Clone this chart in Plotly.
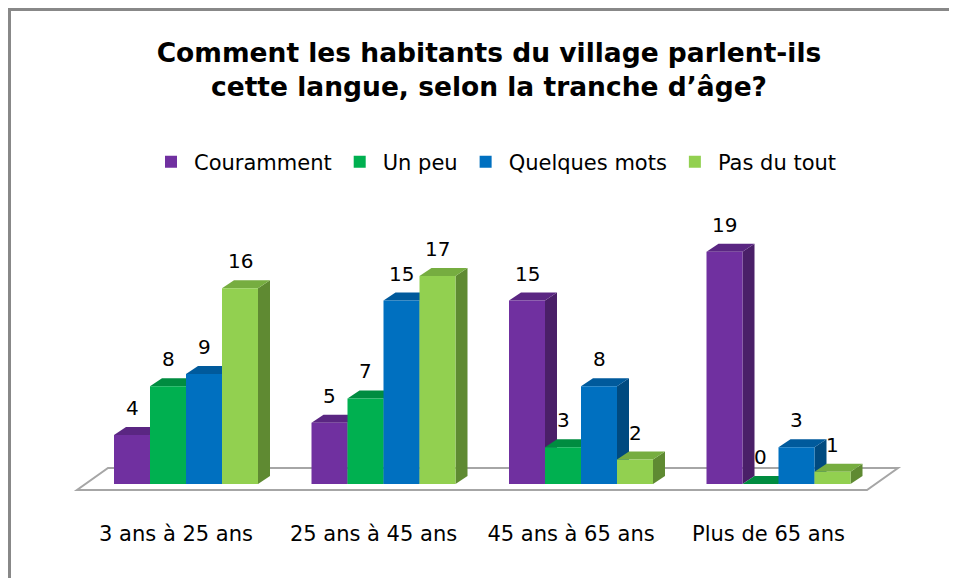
import plotly.graph_objects as go

# ---------------- data ----------------
categories = ["3 ans à 25 ans", "25 ans à 45 ans", "45 ans à 65 ans", "Plus de 65 ans"]
series_names = ["Couramment", "Un peu", "Quelques mots", "Pas du tout"]
couramment = [4, 5, 15, 19]
un_peu = [8, 7, 3, 0]
quelques_mots = [9, 15, 8, 3]
pas_du_tout = [16, 17, 2, 1]
series_values = [couramment, un_peu, quelques_mots, pas_du_tout]

# ---------------- style ----------------
front_colors = ["#7030A0", "#00B050", "#0070C0", "#92D050"]
top_colors = ["#5A2682", "#008C40", "#005A9C", "#76AD40"]
side_colors = ["#4A1F68", "#007434", "#004A80", "#5F8A32"]

FONT = "DejaVu Sans"
OFF = 8  # page body margin (px) – layout constants below are in page pixels
W, H = 957 - OFF, 578 - OFF
PLOT_L, PLOT_R, PLOT_T, PLOT_B = 67, 907, 227, 494  # page px
ML, MR, MT, MB = PLOT_L - OFF, W - (PLOT_R - OFF), PLOT_T - OFF, H - (PLOT_B - OFF)
PX_PER_CAT = 197.5
PX_PER_UNIT = 12.23
CAT0_PX = 186.0   # page px of first category centre
ZERO_PX = 484.0   # page px of value 0

x_min = (PLOT_L - CAT0_PX) / PX_PER_CAT
x_max = (PLOT_R - CAT0_PX) / PX_PER_CAT
y_min = (ZERO_PX - PLOT_B) / PX_PER_UNIT
y_max = (ZERO_PX - PLOT_T) / PX_PER_UNIT

n_series = len(series_values)
bar_w = 36.0 / PX_PER_CAT
group_w = bar_w * n_series
dx = 12.0 / PX_PER_CAT      # depth offset (x)
dv = 8.0 / PX_PER_UNIT      # depth offset (value)

fig = go.Figure()
xs = list(range(len(categories)))
for k, (name, vals) in enumerate(zip(series_names, series_values)):
    fig.add_trace(go.Bar(
        x=xs, y=vals, name=name,
        marker=dict(color=front_colors[k], line=dict(width=0)),
        hoverinfo="x+y+name",
    ))

shapes = []
# floor
fl_front, fl_back = -6.0 / PX_PER_UNIT, 16.0 / PX_PER_UNIT
fl_x0 = (77 - CAT0_PX) / PX_PER_CAT
fl_x1 = (867 - CAT0_PX) / PX_PER_CAT
fl_dx = 31.0 / PX_PER_CAT
shapes.append(dict(
    type="path", xref="x", yref="y", layer="below",
    path=f"M{fl_x0},{fl_front} L{fl_x1},{fl_front} L{fl_x1+fl_dx},{fl_back} L{fl_x0+fl_dx},{fl_back} Z",
    fillcolor="white", line=dict(color="#A6A6A6", width=2),
))

annotations = []
for i in range(len(categories)):
    for k in range(n_series):
        v = series_values[k][i]
        x0 = i - group_w / 2 + k * bar_w
        x1 = x0 + bar_w
        # side face
        shapes.append(dict(
            type="path", xref="x", yref="y", layer="below",
            path=f"M{x1},0 L{x1},{v} L{x1+dx},{v+dv} L{x1+dx},{dv} Z",
            fillcolor=side_colors[k], line=dict(width=0),
        ))
        # top face
        shapes.append(dict(
            type="path", xref="x", yref="y", layer="below",
            path=f"M{x0},{v} L{x1},{v} L{x1+dx},{v+dv} L{x0+dx},{v+dv} Z",
            fillcolor=top_colors[k], line=dict(width=0),
        ))
        annotations.append(dict(
            x=(x0 + x1) / 2, y=v, xref="x", yref="y", text=str(v),
            showarrow=False, yanchor="bottom", yshift=13,
            font=dict(family=FONT, size=20, color="#000000"),
        ))

# outer frame (top and left borders of the chart area)
pw = W - ML - MR
ph = H - MT - MB
def px_to_paper_x(px):
    return (px - PLOT_L) / pw
def px_to_paper_y(py):
    return (PLOT_B - py) / ph
shapes.append(dict(type="line", xref="paper", yref="paper",
                   x0=px_to_paper_x(8.5), x1=px_to_paper_x(965),
                   y0=px_to_paper_y(9.5), y1=px_to_paper_y(9.5),
                   line=dict(color="#888888", width=3)))
shapes.append(dict(type="line", xref="paper", yref="paper",
                   x0=px_to_paper_x(9.5), x1=px_to_paper_x(9.5),
                   y0=px_to_paper_y(8), y1=px_to_paper_y(600),
                   line=dict(color="#888888", width=3)))

fig.update_layout(
    width=W, height=H,
    margin=dict(l=ML, r=MR, t=MT, b=MB, autoexpand=False),
    paper_bgcolor="white", plot_bgcolor="rgba(0,0,0,0)",
    barmode="group", bargap=1 - group_w, bargroupgap=0,
    title=dict(
        text="Comment les habitants du village parlent-ils<br>cette langue, selon la tranche d’âge?",
        x=(489 - OFF) / W, xanchor="center", xref="container",
        y=1 - (62 - OFF) / H, yanchor="top", yref="container",
        font=dict(family=FONT, size=26.5, color="#000000", weight="bold"),
    ),
    legend=dict(
        orientation="h", x=px_to_paper_x(495), xanchor="center",
        y=px_to_paper_y(162), yanchor="middle",
        font=dict(family=FONT, size=21, color="#000000"),
        bgcolor="rgba(0,0,0,0)", traceorder="normal",
        itemwidth=36,
    ),
    xaxis=dict(
        range=[x_min, x_max], tickmode="array", tickvals=xs, ticktext=categories,
        showgrid=False, zeroline=False, showline=False, ticks="",
        ticklabelshift=-10, ticklabelstandoff=25,
        tickfont=dict(family=FONT, size=21, color="#000000"),
    ),
    yaxis=dict(range=[y_min, y_max], visible=False, showgrid=False, zeroline=False),
    shapes=shapes, annotations=annotations,
    showlegend=True,
)

fig.write_html("out.html")
